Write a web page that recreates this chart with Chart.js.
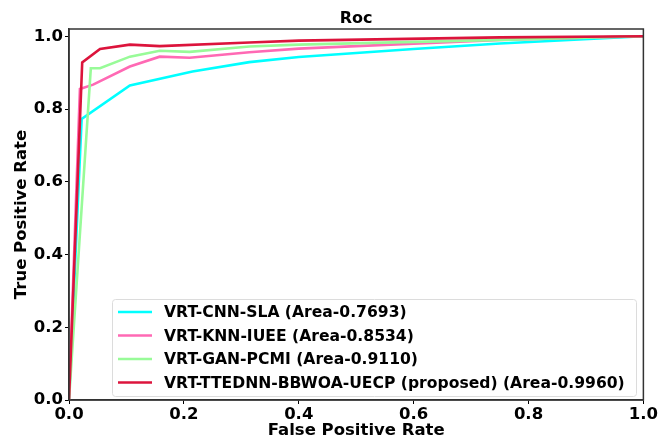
<!DOCTYPE html>
<html>
<head>
<meta charset="utf-8">
<script src="https://cdn.jsdelivr.net/npm/chart.js@4.4.1/dist/chart.umd.min.js"></script>
<style>
  html, body { margin: 0; padding: 0; background: #fff; }
  #wrap { width: 659px; height: 441px; }
</style>
</head>
<body>
<div id="wrap"><canvas id="roc"></canvas></div>
<script>
// ROC curve points
const cnnFpr = [0, 0.022, 0.106, 0.215, 0.314, 0.4, 0.6, 0.75, 1.0];
const cnnTpr = [0, 0.773, 0.865, 0.903, 0.929, 0.943, 0.965, 0.980, 1.0];

const knnFpr = [0, 0.019, 0.042, 0.106, 0.158, 0.21, 0.314, 0.4, 0.75, 1.0];
const knnTpr = [0, 0.855, 0.867, 0.917, 0.944, 0.941, 0.956, 0.966, 0.990, 1.0];

const ganFpr = [0, 0.038, 0.054, 0.106, 0.158, 0.21, 0.314, 0.4, 0.75, 1.0];
const ganTpr = [0, 0.912, 0.912, 0.944, 0.960, 0.957, 0.972, 0.977, 0.990, 1.0];

const propFpr = [0, 0.023, 0.054, 0.106, 0.158, 0.314, 0.4, 0.75, 1.0];
const propTpr = [0, 0.928, 0.965, 0.977, 0.973, 0.983, 0.988, 0.997, 1.0];

const seriesLabels = [
    'VRT-CNN-SLA (Area-0.7693)',
    'VRT-KNN-IUEE (Area-0.8534)',
    'VRT-GAN-PCMI (Area-0.9110)',
    'VRT-TTEDNN-BBWOA-UECP (proposed) (Area-0.9960)'
];
const seriesColors = ['#00ffff', '#ff69b4', '#98fb98', '#dc143c'];
const axisTicks = [0, 0.2, 0.4, 0.6, 0.8, 1.0];

const FONT = 'DejaVu Sans';

function toPoints(xs, ys) {
    return xs.map((x, i) => ({x: x, y: ys[i]}));
}

const allFpr = [cnnFpr, knnFpr, ganFpr, propFpr];
const allTpr = [cnnTpr, knnTpr, ganTpr, propTpr];

const datasets = seriesLabels.map((label, i) => ({
    label: label,
    data: toPoints(allFpr[i], allTpr[i]),
    borderColor: seriesColors[i],
    backgroundColor: seriesColors[i],
    borderWidth: 2.6,
    showLine: true,
    pointRadius: 0,
    tension: 0,
    order: 3 - i
}));

// frame, title and the legend box inside the plot
const framePlugin = {
    id: 'frame',
    afterDatasetsDraw(chart) {
        const ctx = chart.ctx;
        const a = chart.chartArea;
        ctx.save();
        ctx.strokeStyle = '#333';
        ctx.lineWidth = 1.5;
        ctx.strokeRect(a.left, a.top, a.right - a.left, a.bottom - a.top);

        // title
        ctx.fillStyle = '#000';
        ctx.font = 'bold 16px "' + FONT + '"';
        ctx.textAlign = 'center';
        ctx.textBaseline = 'alphabetic';
        ctx.fillText('Roc', (a.left + a.right) / 2, a.top - 6);

        // legend
        const bx = 112, by = 299, bw = 524, bh = 97;
        ctx.fillStyle = 'rgba(255,255,255,0.8)';
        ctx.strokeStyle = '#dcdcdc';
        ctx.lineWidth = 1;
        ctx.beginPath();
        ctx.roundRect(bx + 0.5, by + 0.5, bw, bh, 3);
        ctx.fill();
        ctx.stroke();
        ctx.font = 'bold 15.6px "' + FONT + '"';
        ctx.textAlign = 'left';
        ctx.textBaseline = 'middle';
        chart.data.datasets.forEach((ds, i) => {
            const y = 312 + i * 23.5;
            ctx.strokeStyle = ds.borderColor;
            ctx.lineWidth = 2.6;
            ctx.beginPath();
            ctx.moveTo(118, y);
            ctx.lineTo(152, y);
            ctx.stroke();
            ctx.fillStyle = '#000';
            ctx.fillText(ds.label, 164, y + 1);
        });
        ctx.restore();
    }
};

const tickFont = {family: FONT, size: 16.5, weight: 'bold'};
const titleFont = {family: FONT, size: 16.5, weight: 'bold'};

new Chart(document.getElementById('roc'), {
    type: 'scatter',
    data: {datasets: datasets},
    options: {
        responsive: true,
        maintainAspectRatio: false,
        animation: false,
        layout: {padding: {top: 29, right: 14, left: 0, bottom: 0}},
        plugins: {
            legend: {display: false},
            title: {display: false},
            tooltip: {enabled: false}
        },
        scales: {
            x: {
                type: 'linear',
                min: 0,
                max: 1,
                afterBuildTicks: s => { s.ticks = axisTicks.map(v => ({value: v})); },
                afterFit: s => { s.height = 41; },
                ticks: {
                    color: '#000',
                    font: tickFont,
                    padding: 1,
                    maxRotation: 0,
                    callback: v => v.toFixed(1)
                },
                grid: {display: true, drawOnChartArea: false, drawTicks: true, tickLength: 4, color: '#000'},
                border: {display: true, color: '#333', width: 1.5},
                title: {display: true, text: 'False Positive Rate', color: '#000', font: titleFont, padding: {top: 0, bottom: 0}}
            },
            y: {
                type: 'linear',
                min: 0,
                max: 1.02,
                afterBuildTicks: s => { s.ticks = axisTicks.map(v => ({value: v})); },
                afterFit: s => { s.width = 69; },
                ticks: {
                    color: '#000',
                    font: tickFont,
                    padding: 2,
                    callback: v => v.toFixed(1)
                },
                grid: {display: true, drawOnChartArea: false, drawTicks: true, tickLength: 4, color: '#000'},
                border: {display: true, color: '#333', width: 1.5},
                title: {display: true, text: 'True Positive Rate', color: '#000', font: titleFont, padding: {top: 12, bottom: 0}}
            }
        }
    },
    plugins: [framePlugin]
});
</script>
</body>
</html>
